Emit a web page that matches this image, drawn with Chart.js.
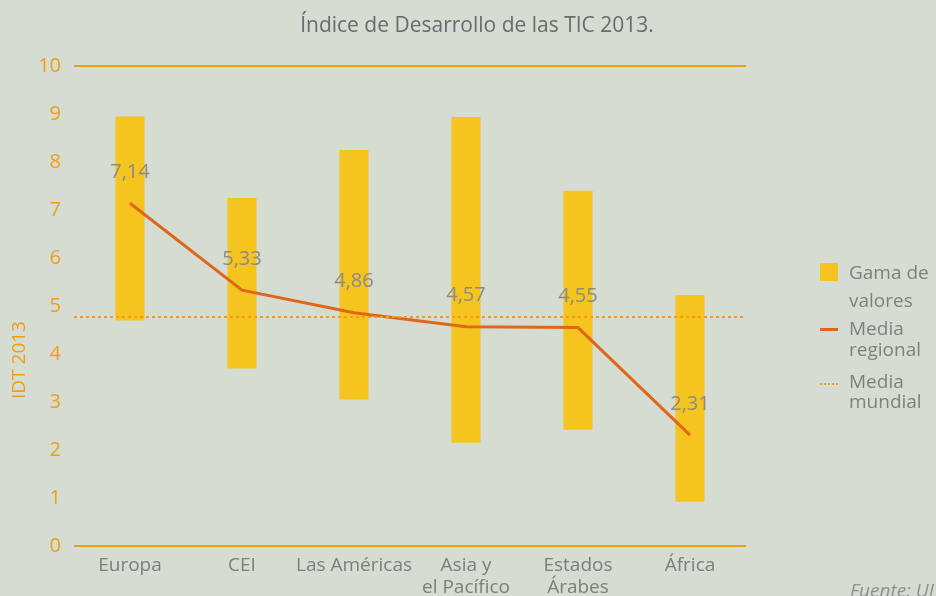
<!DOCTYPE html>
<html>
<head>
<meta charset="utf-8">
<script src="https://cdn.jsdelivr.net/npm/chart.js@4.4.1/dist/chart.umd.min.js"></script>
<style>
  body { margin: 0; background: #d5ddd3; font-family: "Open Sans", sans-serif; }
  #wrap { position: relative; width: 936px; height: 596px; overflow: hidden; }
  #title { position: absolute; left: 0; width: 954px; top: 10px; text-align: center; font-size: 21px; color: #6a6a6a; }
  .lt { position: absolute; left: 849px; font-size: 19px; color: #7f7f7f; white-space: nowrap; line-height: 22px; }
  .sw { position: absolute; left: 820px; }
  #fuente { position: absolute; left: 850px; top: 577px; font-size: 19px; font-style: italic; color: #8f8f8f; white-space: nowrap; }
</style>
</head>
<body>
<div id="wrap">
  <canvas id="myChart" width="936" height="596"></canvas>
  <div id="title">Índice de Desarrollo de las TIC 2013.</div>
  <div class="sw" style="top:263px;width:18px;height:18px;background:#f5c41f"></div>
  <div class="lt" style="top:261px">Gama de</div>
  <div class="lt" style="top:289px">valores</div>
  <div class="sw" style="top:328px;width:18px;height:3px;background:#e0661a"></div>
  <div class="lt" style="top:317px">Media</div>
  <div class="lt" style="top:338px">regional</div>
  <div class="sw" style="top:383px;width:18px;border-top:2px dotted #f39c12"></div>
  <div class="lt" style="top:370px">Media</div>
  <div class="lt" style="top:390px">mundial</div>
  <div id="fuente">Fuente: UIT</div>
</div>
<script>
// data
const regions = ['Europa', 'CEI', 'Las Américas', ['Asia y', 'el Pacífico'], ['Estados', 'Árabes'], 'África'];
const rangeMin = [4.7, 3.7, 3.05, 2.15, 2.42, 0.92];
const rangeMax = [8.95, 7.25, 8.25, 8.94, 7.4, 5.23];
const regionalMean = [7.14, 5.33, 4.86, 4.57, 4.55, 2.31];
const worldMean = 4.77;

const ORANGE = '#f39c12';

// world mean dotted line across the whole plot
const worldLine = {
	id: 'worldLine',
	afterDatasetsDraw(chart) {
		const ctx = chart.ctx;
		const y = chart.scales.y.getPixelForValue(worldMean);
		ctx.save();
		ctx.strokeStyle = ORANGE;
		ctx.lineWidth = 2;
		ctx.setLineDash([3, 3]);
		ctx.beginPath();
		ctx.moveTo(chart.chartArea.left, y);
		ctx.lineTo(chart.chartArea.right, y);
		ctx.stroke();
		ctx.restore();
	}
};

// value labels over the regional mean line + y title
const meanLabels = {
	id: 'meanLabels',
	afterDraw(chart) {
		const ctx = chart.ctx;
		const meta = chart.getDatasetMeta(1);
		ctx.save();
		ctx.fillStyle = '#8a8a8a';
		ctx.font = '20px "Open Sans"';
		ctx.textAlign = 'center';
		ctx.textBaseline = 'middle';
		meta.data.forEach((pt, i) => {
			ctx.fillText(regionalMean[i].toFixed(2).replace('.', ','), pt.x, pt.y - 31);
		});
		ctx.translate(20, 360);
		ctx.rotate(-Math.PI / 2);
		ctx.fillStyle = ORANGE;
		ctx.font = '19px "Open Sans"';
		ctx.fillText('IDT 2013', 0, 0);
		ctx.restore();
	}
};

const config = {
	data: {
		labels: regions,
		datasets: [{
			type: 'bar',
			label: 'Gama de valores',
			data: rangeMin.map((v, i) => [v, rangeMax[i]]),
			backgroundColor: '#f5c41f',
			barPercentage: 0.26,
			categoryPercentage: 1,
			order: 2
		}, {
			type: 'line',
			label: 'Media regional',
			data: regionalMean,
			borderColor: '#e0661a',
			borderWidth: 3,
			pointRadius: 0,
			tension: 0,
			order: 1
		}]
	},
	options: {
		responsive: false,
		animation: false,
		layout: {
			padding: { left: 0, top: 66, right: 190, bottom: 0 }
		},
		scales: {
			x: {
				grid: { display: false },
				border: { display: false },
				ticks: {
					color: '#7d7d7d',
					padding: 1,
					maxRotation: 0,
					autoSkip: false,
					font: { family: 'Open Sans', size: 19, lineHeight: 1.15 }
				},
				afterFit(scale) { scale.height = 50; }
			},
			y: {
				min: 0,
				max: 10,
				border: { display: false },
				grid: {
					drawTicks: false,
					lineWidth: 2,
					color: ctx => (ctx.tick && (ctx.tick.value === 0 || ctx.tick.value === 10)) ? ORANGE : 'rgba(0,0,0,0)'
				},
				ticks: {
					stepSize: 1,
					color: ORANGE,
					padding: 13,
					font: { family: 'Open Sans', size: 20 }
				},
				afterFit(scale) { scale.width = 74; }
			}
		},
		plugins: {
			legend: { display: false },
			tooltip: { enabled: false }
		}
	},
	plugins: [worldLine, meanLabels]
};

document.addEventListener('DOMContentLoaded', () => {
	const ctx = document.getElementById('myChart').getContext('2d');
	new Chart(ctx, config);
});
</script>
</body>
</html>
